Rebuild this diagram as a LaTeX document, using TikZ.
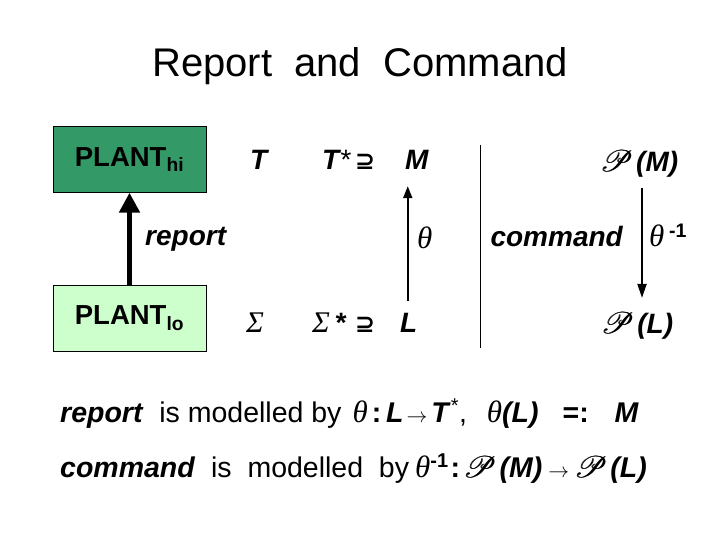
\documentclass[tikz,border=0pt]{standalone}
\usepackage{fontspec}
\usepackage{mathrsfs}
\setmainfont{Liberation Sans}
\newfontfamily\serifsym{Liberation Serif}
\newfontfamily\dejavu{DejaVu Sans}
\usetikzlibrary{arrows.meta,positioning}
\definecolor{planthi}{RGB}{51,153,102}
\definecolor{plantlo}{RGB}{204,255,204}
\newcommand{\bi}[1]{\textbf{\textit{#1}}}
\newcommand{\thet}{{\fontsize{31}{34}\selectfont\serifsym\mdseries\itshape θ}}
\newcommand{\Sig}{{\fontsize{30}{34}\selectfont\serifsym\mdseries\itshape Σ}}
\newcommand{\scrP}{\scalebox{1.2}{$\mathscr{P}$}}
\newcommand{\pset}{\makebox[0pt][l]{\scrP}\hspace{0.8pt}\scrP\hspace{3pt}}
\newcommand{\supq}{{\dejavu\bfseries\upshape ⊇}}
\newcommand{\arr}{{\fontsize{20}{24}\selectfont$\rightarrow$}}
\newcommand{\minusone}{\textsuperscript{\bfseries\upshape -1}}

\begin{document}
\begin{tikzpicture}[x=1pt,y=-1pt,
    plant/.style={draw=black,thin,minimum width=153pt,minimum height=66pt,font=\fontsize{27.5}{32}\selectfont\bfseries},
    lbl/.style={font=\fontsize{28}{32}\selectfont\bfseries\itshape,inner sep=0pt,anchor=base},
    txt/.style={font=\fontsize{28.5}{32}\selectfont,inner sep=0pt,anchor=base west}]
    \useasboundingbox (0,0) rectangle (720,540);
    \node[anchor=base,font=\fontsize{40}{48}\selectfont] (title) at (360,77) {Report\ \ and\ \ Command};
    % the two plants
    \node[plant,fill=planthi] (hi) at (129.5,159.5) {PLANT\textsubscript{hi}};
    \node[plant,fill=plantlo] (lo) at (129.5,318) {PLANT\textsubscript{lo}};
    \draw[-{Triangle[length=20pt,width=20pt]},line width=5pt] (lo) -- (hi);
    \node[lbl,anchor=base west] (report) at (145,245) {report};
    % languages
    \node[lbl,anchor=base west] (T) at (250,170) {T};
    \node[lbl,anchor=base west] (Tstar) at (322,170) {T{\mdseries*}};
    \node[lbl,anchor=base west,font=\fontsize{24}{28}\selectfont] (supM) at (355,170) {\supq};
    \node[lbl,anchor=base west] (M) at (405,170) {M};
    \node[lbl,anchor=base west] (Sig) at (246,332) {\Sig};
    \node[lbl,anchor=base west] (Sigstar) at (312,332) {\Sig\,*};
    \node[lbl,anchor=base west,font=\fontsize{24}{28}\selectfont] (supL) at (355,332) {\supq};
    \node[lbl,anchor=base west] (L) at (400,332) {L};
    \draw[-{Triangle[length=12pt,width=9pt]},line width=2pt,shorten <=12pt,shorten >=16pt] ([xshift=-1pt]L.north) -- ([xshift=-1pt]L.north |- M.south);
    \node[lbl,anchor=west] (theta) at (417,238) {\thet};
    \draw[thin] (480,145) -- (480,348);
    % power sets
    \node[lbl] (PM) at (639,172) {\pset(M)};
    \node[lbl] (PL) at (637,333) {\pset(L)};
    \draw[-{Triangle[length=14pt,width=9pt]},line width=2pt,shorten <=10pt,shorten >=14pt] ([xshift=3pt]PM.south) -- ([xshift=3pt]PM.south |- PL.north);
    \node[lbl,anchor=base east] (command) at (623,247) {command};
    \node[lbl,anchor=base west] (thetainv) at (649,247) {\thet\,\minusone};
    % what models what
    \node[txt] (line1) at (60,422) {\bi{report}\ \ is modelled by\hspace{11pt}\thet\hspace{4pt}\textbf{:}\hspace{5pt}\bi{L}\hspace{3pt}\arr\hspace{4pt}\bi{T}\textsuperscript{*},\hspace{20pt}\thet\bi{(L)}\hspace{24pt}\textbf{=:}\hspace{26pt}\bi{M}};
    \node[txt] (line2) at (60,477) {\bi{command}\ \ is\ \ modelled\ \ by\hspace{6pt}\thet\minusone\hspace{2pt}\textbf{:}\hspace{3pt}\pset\bi{(M)}\hspace{6pt}\arr\hspace{5pt}\pset\bi{(L)}};
\end{tikzpicture}
\end{document}
